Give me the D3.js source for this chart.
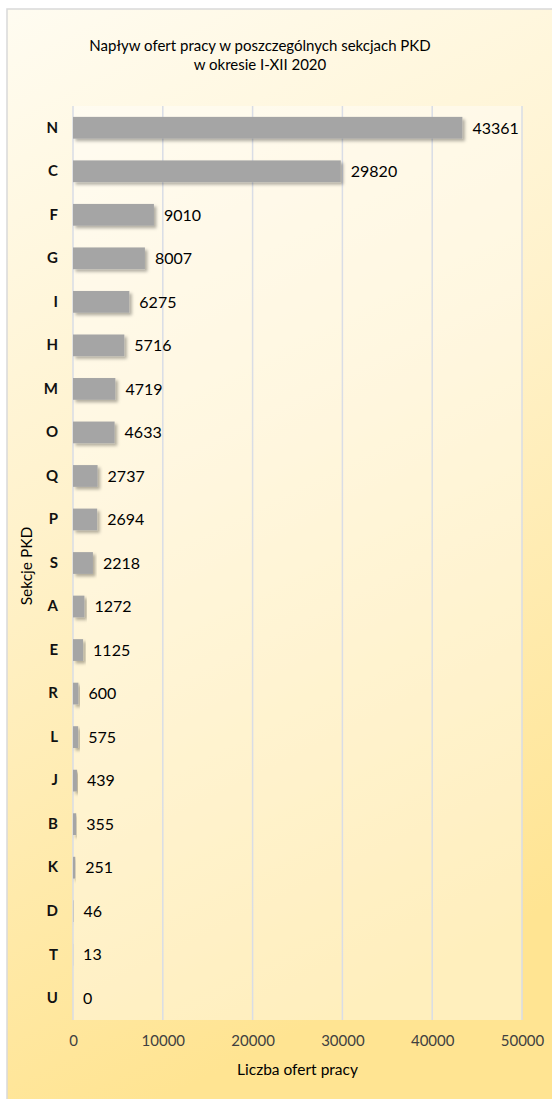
<!DOCTYPE html>
<html>
<head>
<meta charset="utf-8">
<script src="https://cdn.jsdelivr.net/npm/d3@7"></script>
<style>
  body { margin: 0; background: #fff; }
  svg text { font-family: Lato, "Open Sans", sans-serif; }
</style>
</head>
<body>
<div id="chart"></div>
<script>
const sections = ["N", "C", "F", "G", "I", "H", "M", "O", "Q", "P", "S", "A", "E", "R", "L", "J", "B", "K", "D", "T", "U"];
const offers = [43361, 29820, 9010, 8007, 6275, 5716, 4719, 4633, 2737, 2694, 2218, 1272, 1125, 600, 575, 439, 355, 251, 46, 13, 0];
const xTicks = [0, 10000, 20000, 30000, 40000, 50000];
const titleLines = ["Napływ ofert pracy w poszczególnych sekcjach PKD", "w okresie I-XII 2020"];

const width = 552, height = 1099;
const plotLeft = 73, plotTop = 106, plotW = 449, plotH = 914;

const svg = d3.select("#chart").append("svg")
    .attr("width", width)
    .attr("height", height);

const defs = svg.append("defs");
const grad = defs.append("linearGradient")
    .attr("id", "bg")
    .attr("x1", 0).attr("y1", 0).attr("x2", 0.25).attr("y2", 1);
grad.append("stop").attr("offset", 0).attr("stop-color", "#fffcf1");
grad.append("stop").attr("offset", 0.45).attr("stop-color", "#fff2cc");
grad.append("stop").attr("offset", 1).attr("stop-color", "#ffe492");

const shadow = defs.append("filter")
    .attr("id", "shadow")
    .attr("x", "-10%").attr("y", "-30%").attr("width", "130%").attr("height", "180%");
shadow.append("feDropShadow")
    .attr("dx", 2.5).attr("dy", 2.5).attr("stdDeviation", 1.8)
    .attr("flood-color", "#000").attr("flood-opacity", 0.3);

// chart background + frame
svg.append("rect")
    .attr("x", 7).attr("y", 9)
    .attr("width", width).attr("height", height)
    .attr("fill", "url(#bg)")
    .attr("stroke", "#d9d9d9")
    .attr("stroke-width", 1.5);

const x = d3.scaleLinear().domain([0, 50000]).range([plotLeft, plotLeft + plotW]);
const y = d3.scaleBand().domain(sections).range([plotTop, plotTop + plotH]).paddingInner(0.5).paddingOuter(0.25);

// plot area
svg.append("rect")
    .attr("x", x(0)).attr("y", plotTop)
    .attr("width", plotW).attr("height", plotH)
    .attr("fill", "#fff")
    .attr("fill-opacity", 0.4);

// grid lines
svg.append("g")
  .selectAll("line")
  .data(xTicks)
  .join("line")
    .attr("x1", d => x(d)).attr("x2", d => x(d))
    .attr("y1", plotTop).attr("y2", plotTop + plotH)
    .attr("stroke", "#d9dde6")
    .attr("stroke-width", 1.5);

// bars
svg.append("g")
  .selectAll("rect")
  .data(sections)
  .join("rect")
    .attr("x", x(0))
    .attr("y", d => y(d))
    .attr("width", (d, i) => x(offers[i]) - x(0))
    .attr("height", y.bandwidth())
    .attr("fill", "#a5a5a5")
    .attr("filter", "url(#shadow)");

// value labels
svg.append("g")
  .selectAll("text")
  .data(sections)
  .join("text")
    .attr("x", (d, i) => x(offers[i]) + 10)
    .attr("y", d => y(d) + y.bandwidth() / 2)
    .attr("dy", "0.36em")
    .attr("font-size", 16)
    .attr("fill", "#000")
    .text((d, i) => offers[i]);

// category axis
const yAxis = d3.axisLeft(y).tickSize(0).tickPadding(15);
svg.append("g")
    .attr("transform", "translate(" + x(0) + ",0)")
    .call(yAxis)
    .call(g => g.select(".domain").remove())
    .selectAll("text")
    .attr("font-size", 15)
    .attr("font-weight", "bold")
    .attr("fill", "#111");

// value axis
const xAxis = d3.axisBottom(x).tickValues(xTicks).tickSize(0).tickPadding(15).tickFormat(d3.format("d"));
svg.append("g")
    .attr("transform", "translate(0," + (plotTop + plotH) + ")")
    .call(xAxis)
    .call(g => g.select(".domain").remove())
    .selectAll("text")
    .attr("font-size", 15)
    .attr("fill", "#404040");

// titles
svg.append("g")
  .selectAll("text")
  .data(titleLines)
  .join("text")
    .attr("x", 260)
    .attr("y", (d, i) => 51 + i * 19)
    .attr("text-anchor", "middle")
    .attr("font-size", 15)
    .attr("fill", "#000")
    .text(d => d);

svg.append("text")
    .attr("x", (x(0) + x(50000)) / 2)
    .attr("y", 1075)
    .attr("text-anchor", "middle")
    .attr("font-size", 15.5)
    .attr("fill", "#000")
    .text("Liczba ofert pracy");

svg.append("text")
    .attr("transform", "translate(32,566) rotate(-90)")
    .attr("text-anchor", "middle")
    .attr("font-size", 15.5)
    .attr("fill", "#000")
    .text("Sekcje PKD");
</script>
</body>
</html>
